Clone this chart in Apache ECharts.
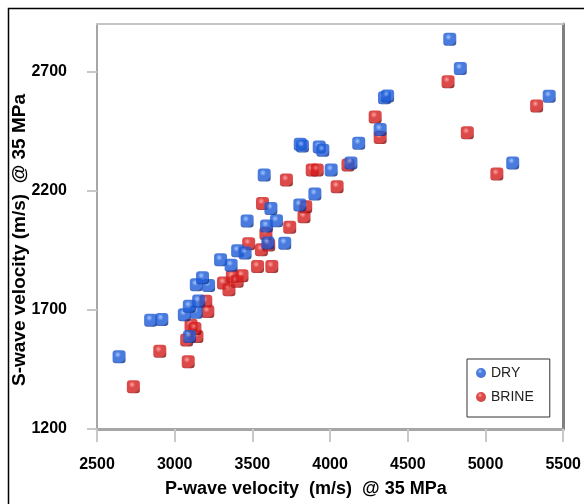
<!DOCTYPE html>
<html><head><meta charset="utf-8">
<script src="https://cdn.jsdelivr.net/npm/echarts@6/dist/echarts.min.js"></script>
<style>html,body{margin:0;padding:0;background:#fff}#c{width:584px;height:504px}</style>
</head><body><div id="c"></div>
<script>
const xTicks = [2500, 3000, 3500, 4000, 4500, 5000, 5500];
const yTicks = [1200, 1700, 2200, 2700];
const seriesNames = ['DRY', 'BRINE'];
const dryP = [2642,2845,2917,3062,3139,3094,3096,3154,3139,3218,3179,3295,3363,3405,3453,3466,3599,3708,3591,3655,3619,3576,3805,3902,4007,4134,4184,3808,3822,3930,3953,4322,4350,4370,4770,4838,5410,5175];
const dryS = [1503,1657,1660,1680,1690,1715,1588,1737,1805,1802,1835,1910,1887,1948,1939,2073,1981,1980,2052,2074,2126,2266,2140,2186,2287,2317,2399,2395,2388,2384,2370,2457,2590,2598,2836,2713,2597,2317];
const brineP = [2734,2904,3087,3077,3143,3105,3130,3200,3213,3314,3349,3371,3402,3433,3533,3625,3476,3558,3605,3587,3740,3565,3832,3843,3719,3885,3917,4045,4115,4290,4322,4759,4883,5329,5073];
const brineS = [1377,1526,1482,1574,1588,1635,1622,1736,1693,1813,1784,1840,1820,1843,1882,1882,1978,1952,1972,2021,2047,2147,2091,2133,2245,2287,2287,2217,2308,2510,2424,2658,2443,2556,2270];

const FONT = '"Liberation Sans", Arial, sans-serif';
const pts = (a, b) => a.map((v, i) => [v, b[i]]);
const grad = (hi, mid, lo) => ({type:'radial', x:0.4, y:0.33, r:0.72,
  colorStops:[{offset:0,color:hi},{offset:0.35,color:mid},{offset:0.8,color:mid},{offset:1,color:lo}]});
const blueFill = grad('#8ab8ff', '#1c5ad6', '#0a2e88');
const redFill = grad('#ff8c8c', '#d41c1c', '#7c0808');
const sym = 'path://M3,0 H9 A3,3 0 0 1 12,3 V9 A3,3 0 0 1 9,12 H3 A3,3 0 0 1 0,9 V3 A3,3 0 0 1 3,0 Z';

const chart = echarts.init(document.getElementById('c'), null, {renderer:'canvas'});
chart.setOption({
  animation:false,
  backgroundColor:'#fff',
  grid:{left:97, right:18, top:24, bottom:75, containLabel:false},
  graphic:[
    {type:'rect', left:6, top:6, shape:{width:620, height:620}, style:{fill:'none', stroke:'#000', lineWidth:1.5}, silent:true},
    {type:'text', left:165, top:480, style:{text:'P-wave velocity  (m/s)  @ 35 MPa', font:'bold 18px ' + FONT, fill:'#000'}},
    {type:'text', left:10, top:94, rotation:Math.PI/2, style:{text:'S-wave velocity (m/s)  @ 35 MPa', font:'bold 19px ' + FONT, fill:'#000'}}
  ],
  legend:{
    data:seriesNames, orient:'vertical', left:467, top:359,
    padding:[7,16,13,9], itemGap:10, itemWidth:10, itemHeight:10,
    borderColor:'#333', borderWidth:1, backgroundColor:'#fff',
    textStyle:{fontFamily:FONT, fontSize:14, color:'#222'}, icon:'circle'
  },
  xAxis:[{
    type:'value', min:2500, max:5500, interval:500,
    axisLine:{lineStyle:{color:'#a6a6a6', width:3}},
    axisTick:{show:true, length:13, lineStyle:{color:'#c8c8c8', width:2}, customValues:xTicks},
    axisLabel:{margin:28, fontFamily:FONT, fontSize:16, fontWeight:'bold', color:'#000', customValues:xTicks, formatter:v => String(v)},
    splitLine:{show:false}
  },{
    type:'value', position:'top', min:2500, max:5500,
    axisLine:{show:true, lineStyle:{color:'#c4c4c4', width:2}},
    axisTick:{show:false}, axisLabel:{show:false}, splitLine:{show:false}
  }],
  yAxis:[{
    type:'value', min:1200, max:2900,
    axisLine:{show:true, lineStyle:{color:'#a6a6a6', width:2}},
    axisTick:{show:true, length:10, lineStyle:{color:'#c8c8c8', width:2}, customValues:yTicks},
    axisLabel:{margin:30, fontFamily:FONT, fontSize:16, fontWeight:'bold', color:'#000', customValues:yTicks, formatter:v => String(v)},
    splitLine:{show:false}
  },{
    type:'value', position:'right', min:1200, max:2900,
    axisLine:{show:true, lineStyle:{color:'#808080', width:3}},
    axisTick:{show:false}, axisLabel:{show:false}, splitLine:{show:false}
  }],
  series:[
    {name:'DRY', type:'scatter', z:3, symbol:sym, symbolSize:13, data:pts(dryP, dryS), itemStyle:{color:blueFill}},
    {name:'BRINE', type:'scatter', z:2, symbol:sym, symbolSize:13, data:pts(brineP, brineS), itemStyle:{color:redFill}}
  ]
});
</script></body></html>
